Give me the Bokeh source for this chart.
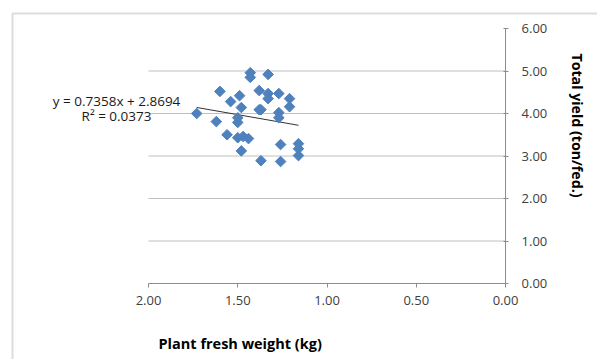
from bokeh.plotting import figure
from bokeh.models import Range1d, FixedTicker, NumeralTickFormatter, Label, BoxAnnotation
from bokeh.embed import file_html
from bokeh.resources import INLINE
import numpy as np

# Data
fresh_weight = [1.43, 1.43, 1.33, 1.60, 1.38, 1.33, 1.33, 1.27, 1.21, 1.49,
                1.54, 1.48, 1.21, 1.38, 1.37, 1.27, 1.27, 1.73, 1.50, 1.50,
                1.62, 1.56, 1.50, 1.47, 1.44, 1.48, 1.26, 1.16, 1.16, 1.16,
                1.37, 1.26]
total_yield = [4.96, 4.85, 4.92, 4.52, 4.54, 4.47, 4.35, 4.47, 4.35, 4.42,
               4.28, 4.14, 4.16, 4.09, 4.09, 4.02, 3.90, 4.00, 3.90, 3.79,
               3.81, 3.50, 3.43, 3.46, 3.41, 3.12, 3.27, 3.29, 3.17, 3.01,
               2.89, 2.87]
slope = 0.7358
intercept = 2.8694
r_squared = 0.0373
x_ticks = [0, 0.5, 1.0, 1.5, 2.0]
y_ticks = [0, 1, 2, 3, 4, 5, 6]
y_grid = [1, 2, 3, 4, 5]
x_title = "Plant fresh weight (kg)"
y_title = "Total yield (ton/fed.)"

FONT = "Open Sans"
W, H = 597, 359
# data range of the whole canvas (plot area 2.0..0 / 0..6 sits inside it)
X_LEFT, X_RIGHT = 2.829, -0.515
Y_BOTTOM, Y_TOP = -1.788, 6.659

p = figure(output_backend="svg", toolbar_location=None,
           x_range=Range1d(X_LEFT, X_RIGHT), y_range=Range1d(Y_BOTTOM, Y_TOP),
           y_axis_location="right", width=W, height=H,
           min_border=0)
p.outline_line_color = None
p.background_fill_color = "white"
p.border_fill_color = "white"
p.xgrid.visible = False
p.ygrid.visible = False

for ax, ticks in ((p.xaxis[0], x_ticks), (p.yaxis[0], y_ticks)):
    ax.ticker = FixedTicker(ticks=ticks)
    ax.formatter = NumeralTickFormatter(format="0.00")
    ax.fixed_location = 0
    ax.bounds = (min(ticks), max(ticks))
    ax.minor_tick_line_color = None
    ax.axis_line_color = "#8c8c8c"
    ax.major_tick_line_color = "#8c8c8c"
    ax.major_label_text_font = FONT
    ax.major_label_text_font_size = "13px"
    ax.major_label_text_color = "#404040"

p.xaxis.major_tick_in = 0
p.xaxis.major_tick_out = 4
p.xaxis.major_label_standoff = 8
p.yaxis.major_tick_in = 2
p.yaxis.major_tick_out = 3
p.yaxis.major_label_standoff = 13

# horizontal gridlines across the plot area only
p.segment(x0=[max(x_ticks)] * len(y_grid), x1=[min(x_ticks)] * len(y_grid),
          y0=y_grid, y1=y_grid, line_color="#c0c0c0", line_width=1)

# chart-area border (top and left edges visible in the window)
p.add_layout(BoxAnnotation(left=12, right=900, top=13, bottom=900,
                           left_units="canvas", right_units="canvas",
                           top_units="canvas", bottom_units="canvas",
                           fill_color=None, line_color="#8a8a8a", line_width=2))

# trendline
xl = np.array([max(fresh_weight), min(fresh_weight)])
p.line(xl, slope * xl + intercept, line_color="#333333", line_width=1)

p.scatter(fresh_weight, total_yield, marker="square", angle=np.pi / 4,
          size=7.5, fill_color="#4f81bd", line_color="#4f81bd")

def lab(x, y, text, **kw):
    p.add_layout(Label(x=x, y=y, text=text, text_font=FONT, **kw))

lab(2.179, 4.306, "y = %.4fx + %.4f" % (slope, intercept), text_align="center",
    text_baseline="middle", text_font_size="13.5px", text_color="#1a1a1a")
lab(2.179, 3.93, "R² = %.4f" % r_squared, text_align="center",
    text_baseline="middle", text_font_size="13.5px", text_color="#1a1a1a")
lab(1.944, -1.412, x_title, text_align="left", text_baseline="middle",
    text_font_size="14.5px", text_font_style="bold", text_color="black")
lab(-0.4035, 3.718, y_title, angle=-np.pi / 2, text_align="center",
    text_baseline="middle", text_font_size="14.2px", text_font_style="bold",
    text_color="black")

open("out.html", "w").write(file_html(p, INLINE))
